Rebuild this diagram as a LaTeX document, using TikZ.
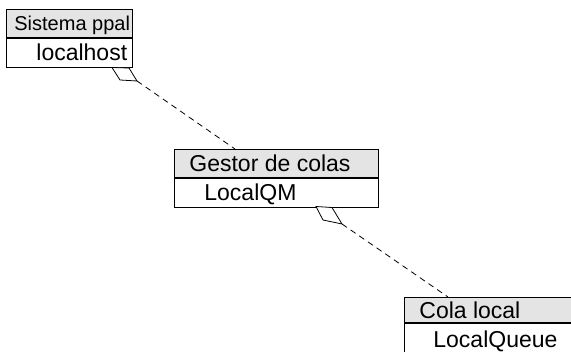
\documentclass[tikz,border=0pt]{standalone}
\usepackage{fontspec}
\setmainfont{Liberation Sans}
% a cell text of fixed width, left aligned with an indent
\newcommand{\celltext}[3]{\makebox[#1][l]{\hspace*{#2}#3}}
\definecolor{hdrgray}{RGB}{228,228,228}
\begin{document}
\begin{tikzpicture}[x=1pt,y=-1pt,
  cell/.style={draw=black, line width=0.8pt, anchor=north west, inner sep=0pt, text depth=0pt},
  small/.style={font=\fontsize{20}{24}\selectfont, text height=14.4pt},
  large/.style={font=\fontsize{23}{27}\selectfont, text height=16.5pt},
  hdr/.style={cell, fill=hdrgray},
  bdy/.style={cell, fill=white},
  link/.style={draw=black, line width=0.8pt, dash pattern=on 6pt off 4.5pt},
  agg/.style={draw=black, line width=0.8pt, fill=white, line join=miter}]
\useasboundingbox (0,0) rectangle (571,352);
\clip (0,0) rectangle (571,352);

% Sistema ppal
\node[hdr, small, minimum height=28pt] (sys) at (6,9)
  {\celltext{126pt}{8pt}{Sistema ppal}};
\node[bdy, large, minimum height=29pt] (sysv) at (sys.south west)
  {\celltext{126pt}{30pt}{localhost}};

% Gestor de colas
\node[hdr, large, minimum height=28pt] (qm) at (174,149)
  {\celltext{204pt}{15pt}{Gestor de colas}};
\node[bdy, large, minimum height=29pt] (qmv) at (qm.south west)
  {\celltext{204pt}{30pt}{LocalQM}};

% Cola local
\node[hdr, large, minimum height=25pt] (q) at (404,297)
  {\celltext{184pt}{15pt}{Cola local}};
\node[bdy, large, minimum height=32pt] (qv) at (q.south west)
  {\celltext{184pt}{29pt}{LocalQueue}};

% aggregation diamonds
\coordinate (a1) at (112,67.5);
\coordinate (b1) at (129,68);
\coordinate (c1) at (137,81);
\coordinate (e1) at (120,80);
\draw[agg] (a1) -- (b1) -- (c1) -- (e1) -- cycle;

\coordinate (a2) at (316,206.5);
\coordinate (b2) at (332,207.5);
\coordinate (c2) at (342,224);
\coordinate (e2) at (323,220);
\draw[agg] (a2) -- (b2) -- (c2) -- (e2) -- cycle;

% dashed links
\coordinate (t1) at (235,149);
\coordinate (t2) at (448,297);
\draw[link] (c1) -- (t1);
\draw[link] (c2) -- (t2);
\end{tikzpicture}
\end{document}
